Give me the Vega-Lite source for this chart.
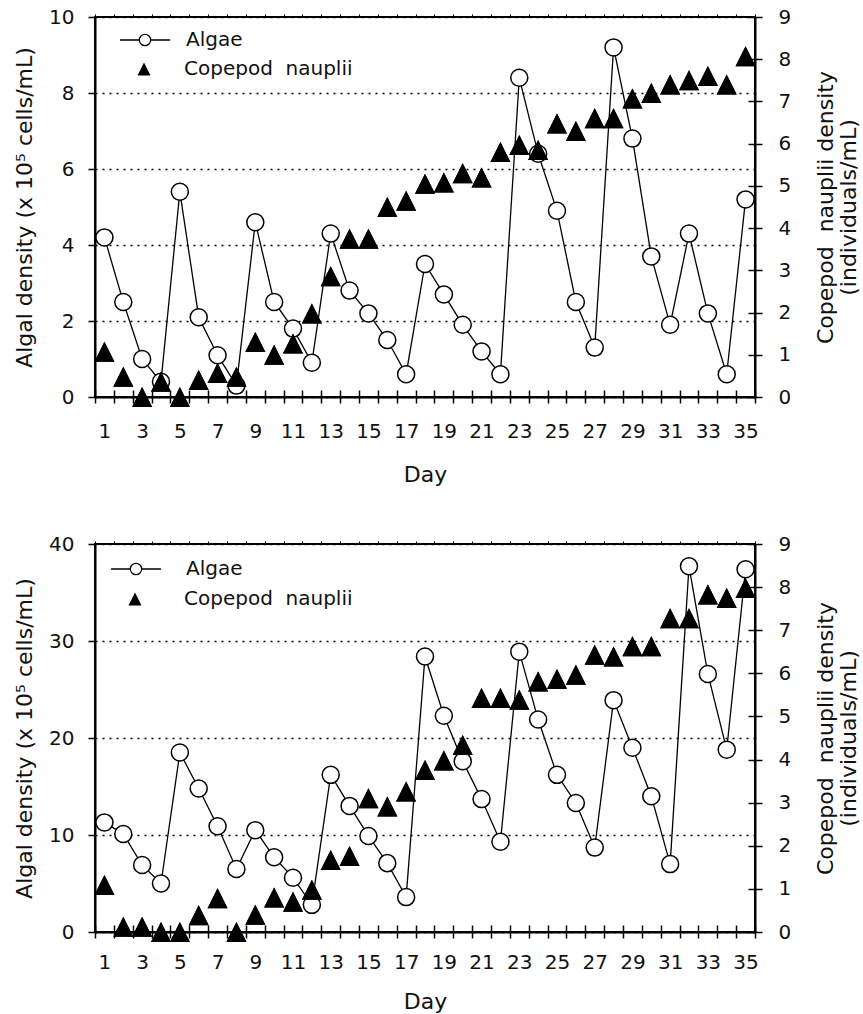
{
  "$schema": "https://vega.github.io/schema/vega-lite/v6.json",
  "padding": {"left": 12, "top": 6, "right": 0, "bottom": 0},
  "background": "white",
  "datasets": {
    "top": [
      {"day":1,"series":"Algae","value":4.2},{"day":2,"series":"Algae","value":2.5},{"day":3,"series":"Algae","value":1.0},{"day":4,"series":"Algae","value":0.4},{"day":5,"series":"Algae","value":5.4},
      {"day":6,"series":"Algae","value":2.1},{"day":7,"series":"Algae","value":1.1},{"day":8,"series":"Algae","value":0.3},{"day":9,"series":"Algae","value":4.6},{"day":10,"series":"Algae","value":2.5},
      {"day":11,"series":"Algae","value":1.8},{"day":12,"series":"Algae","value":0.9},{"day":13,"series":"Algae","value":4.3},{"day":14,"series":"Algae","value":2.8},{"day":15,"series":"Algae","value":2.2},
      {"day":16,"series":"Algae","value":1.5},{"day":17,"series":"Algae","value":0.6},{"day":18,"series":"Algae","value":3.5},{"day":19,"series":"Algae","value":2.7},{"day":20,"series":"Algae","value":1.9},
      {"day":21,"series":"Algae","value":1.2},{"day":22,"series":"Algae","value":0.6},{"day":23,"series":"Algae","value":8.4},{"day":24,"series":"Algae","value":6.4},{"day":25,"series":"Algae","value":4.9},
      {"day":26,"series":"Algae","value":2.5},{"day":27,"series":"Algae","value":1.3},{"day":28,"series":"Algae","value":9.2},{"day":29,"series":"Algae","value":6.8},{"day":30,"series":"Algae","value":3.7},
      {"day":31,"series":"Algae","value":1.9},{"day":32,"series":"Algae","value":4.3},{"day":33,"series":"Algae","value":2.2},{"day":34,"series":"Algae","value":0.6},{"day":35,"series":"Algae","value":5.2},
      {"day":1,"series":"Copepod nauplii","value":1.07},{"day":2,"series":"Copepod nauplii","value":0.48},{"day":3,"series":"Copepod nauplii","value":0.0},{"day":4,"series":"Copepod nauplii","value":0.36},{"day":5,"series":"Copepod nauplii","value":0.0},
      {"day":6,"series":"Copepod nauplii","value":0.4},{"day":7,"series":"Copepod nauplii","value":0.57},{"day":8,"series":"Copepod nauplii","value":0.48},{"day":9,"series":"Copepod nauplii","value":1.3},{"day":10,"series":"Copepod nauplii","value":1.0},
      {"day":11,"series":"Copepod nauplii","value":1.27},{"day":12,"series":"Copepod nauplii","value":1.98},{"day":13,"series":"Copepod nauplii","value":2.86},{"day":14,"series":"Copepod nauplii","value":3.75},{"day":15,"series":"Copepod nauplii","value":3.75},
      {"day":16,"series":"Copepod nauplii","value":4.5},{"day":17,"series":"Copepod nauplii","value":4.65},{"day":18,"series":"Copepod nauplii","value":5.05},{"day":19,"series":"Copepod nauplii","value":5.08},{"day":20,"series":"Copepod nauplii","value":5.3},
      {"day":21,"series":"Copepod nauplii","value":5.2},{"day":22,"series":"Copepod nauplii","value":5.8},{"day":23,"series":"Copepod nauplii","value":5.97},{"day":24,"series":"Copepod nauplii","value":5.85},{"day":25,"series":"Copepod nauplii","value":6.48},
      {"day":26,"series":"Copepod nauplii","value":6.3},{"day":27,"series":"Copepod nauplii","value":6.6},{"day":28,"series":"Copepod nauplii","value":6.6},{"day":29,"series":"Copepod nauplii","value":7.07},{"day":30,"series":"Copepod nauplii","value":7.2},
      {"day":31,"series":"Copepod nauplii","value":7.4},{"day":32,"series":"Copepod nauplii","value":7.5},{"day":33,"series":"Copepod nauplii","value":7.6},{"day":34,"series":"Copepod nauplii","value":7.4},{"day":35,"series":"Copepod nauplii","value":8.07}
    ],
    "bottom": [
      {"day":1,"series":"Algae","value":11.3},{"day":2,"series":"Algae","value":10.1},{"day":3,"series":"Algae","value":6.9},{"day":4,"series":"Algae","value":5.0},{"day":5,"series":"Algae","value":18.5},
      {"day":6,"series":"Algae","value":14.8},{"day":7,"series":"Algae","value":10.9},{"day":8,"series":"Algae","value":6.5},{"day":9,"series":"Algae","value":10.5},{"day":10,"series":"Algae","value":7.7},
      {"day":11,"series":"Algae","value":5.6},{"day":12,"series":"Algae","value":2.8},{"day":13,"series":"Algae","value":16.2},{"day":14,"series":"Algae","value":13.0},{"day":15,"series":"Algae","value":9.9},
      {"day":16,"series":"Algae","value":7.1},{"day":17,"series":"Algae","value":3.6},{"day":18,"series":"Algae","value":28.4},{"day":19,"series":"Algae","value":22.3},{"day":20,"series":"Algae","value":17.6},
      {"day":21,"series":"Algae","value":13.7},{"day":22,"series":"Algae","value":9.3},{"day":23,"series":"Algae","value":28.9},{"day":24,"series":"Algae","value":21.9},{"day":25,"series":"Algae","value":16.2},
      {"day":26,"series":"Algae","value":13.3},{"day":27,"series":"Algae","value":8.7},{"day":28,"series":"Algae","value":23.9},{"day":29,"series":"Algae","value":19.0},{"day":30,"series":"Algae","value":14.0},
      {"day":31,"series":"Algae","value":7.0},{"day":32,"series":"Algae","value":37.7},{"day":33,"series":"Algae","value":26.6},{"day":34,"series":"Algae","value":18.8},{"day":35,"series":"Algae","value":37.4},
      {"day":1,"series":"Copepod nauplii","value":1.09},{"day":2,"series":"Copepod nauplii","value":0.12},{"day":3,"series":"Copepod nauplii","value":0.12},{"day":4,"series":"Copepod nauplii","value":0.0},{"day":5,"series":"Copepod nauplii","value":0.0},
      {"day":6,"series":"Copepod nauplii","value":0.39},{"day":7,"series":"Copepod nauplii","value":0.78},{"day":8,"series":"Copepod nauplii","value":0.0},{"day":9,"series":"Copepod nauplii","value":0.4},{"day":10,"series":"Copepod nauplii","value":0.8},
      {"day":11,"series":"Copepod nauplii","value":0.7},{"day":12,"series":"Copepod nauplii","value":0.98},{"day":13,"series":"Copepod nauplii","value":1.67},{"day":14,"series":"Copepod nauplii","value":1.76},{"day":15,"series":"Copepod nauplii","value":3.1},
      {"day":16,"series":"Copepod nauplii","value":2.91},{"day":17,"series":"Copepod nauplii","value":3.26},{"day":18,"series":"Copepod nauplii","value":3.76},{"day":19,"series":"Copepod nauplii","value":3.98},{"day":20,"series":"Copepod nauplii","value":4.34},
      {"day":21,"series":"Copepod nauplii","value":5.43},{"day":22,"series":"Copepod nauplii","value":5.43},{"day":23,"series":"Copepod nauplii","value":5.39},{"day":24,"series":"Copepod nauplii","value":5.81},{"day":25,"series":"Copepod nauplii","value":5.87},
      {"day":26,"series":"Copepod nauplii","value":5.97},{"day":27,"series":"Copepod nauplii","value":6.43},{"day":28,"series":"Copepod nauplii","value":6.39},{"day":29,"series":"Copepod nauplii","value":6.63},{"day":30,"series":"Copepod nauplii","value":6.63},
      {"day":31,"series":"Copepod nauplii","value":7.28},{"day":32,"series":"Copepod nauplii","value":7.28},{"day":33,"series":"Copepod nauplii","value":7.83},{"day":34,"series":"Copepod nauplii","value":7.75},{"day":35,"series":"Copepod nauplii","value":7.98}
    ]
  },
  "vconcat": [
    {
      "width": 660, "height": 380,
      "data": {"name": "top"},
      "layer": [
        {
          "transform": [{"filter": "datum.series === 'Algae'"}],
          "encoding": {
            "x": {"field": "day", "type": "ordinal", "scale": {"type": "band", "paddingInner": 0, "paddingOuter": 0},
              "axis": {"orient": "bottom", "tickBand": "extent", "labelAngle": 0, "labelExpr": "datum.value % 2 === 1 ? datum.label : ''", "labelOverlap": false, "tickSize": 6, "tickWidth": 1.5, "domainWidth": 2, "labelPadding": 18, "title": "Day", "titlePadding": 23, "grid": false}},
            "y": {"field": "value", "type": "quantitative", "scale": {"domain": [0, 10], "nice": false},
              "axis": {"orient": "left", "values": [0, 2, 4, 6, 8, 10], "grid": true, "gridDash": [2, 5], "gridColor": "black", "gridWidth": 1.5, "gridOpacity": 1, "tickSize": 7, "tickWidth": 1.5, "domainWidth": 2, "labelPadding": 14, "title": "Algal density (x 10⁵ cells/mL)", "titlePadding": 12}}
          },
          "layer": [
            {"mark": {"type": "line", "color": "black", "strokeWidth": 1.3}},
            {"mark": {"type": "point", "shape": "circle", "filled": true, "fill": "white", "strokeWidth": 1.5, "size": 290, "opacity": 1},
              "encoding": {"stroke": {"field": "series", "type": "nominal", "scale": {"domain": ["Algae"], "range": ["black"]},
                "legend": {"orient": "none", "legendX": 40, "legendY": 13, "title": null, "padding": 0, "symbolType": "M-4.4,0L-1,0M1,0L4.4,0M-1,0A1,1,0,1,1,1,0A1,1,0,1,1,-1,0Z", "symbolSize": 130, "symbolFillColor": "white", "symbolStrokeWidth": 1.3, "symbolOpacity": 1, "labelOffset": 31, "labelFontSize": 20, "labelFont": "DejaVu Sans", "labelColor": "#111", "labelLimit": 0}}}}
          ]
        },
        {
          "transform": [{"filter": "datum.series === 'Copepod nauplii'"}],
          "mark": {"type": "point", "shape": "M0,-1L1,1L-1,1Z", "filled": true, "strokeWidth": 0, "size": 400, "opacity": 1},
          "encoding": {
            "x": {"field": "day", "type": "ordinal", "axis": {"orient": "bottom", "tickBand": "extent", "labels": false, "domain": false, "title": null, "tickSize": -7, "tickWidth": 1.5, "grid": false}},
            "y": {"field": "value", "type": "quantitative", "scale": {"domain": [0, 9], "nice": false},
              "axis": {"orient": "right", "values": [0, 1, 2, 3, 4, 5, 6, 7, 8, 9], "grid": false, "tickSize": 7, "tickWidth": 1.5, "domainWidth": 2, "labelPadding": 16, "title": ["Copepod\u00a0 nauplii density", "(individuals/mL)"], "titleAngle": 270, "titleBaseline": "top", "titlePadding": 2, "titleLineHeight": 23}},
            "fill": {"field": "series", "type": "nominal", "scale": {"domain": ["Copepod nauplii"], "range": ["black"]},
              "legend": {"orient": "none", "legendX": 39, "legendY": 42, "title": null, "padding": 0, "symbolType": "M0,-1L1,1L-1,1Z", "symbolSize": 170, "symbolStrokeWidth": 0, "symbolOpacity": 1, "labelOffset": 30, "labelFontSize": 20, "labelFont": "DejaVu Sans", "labelColor": "#111", "labelLimit": 0,
                "labelExpr": "'Copepod\u00a0 nauplii'"}}
          }
        },
        {
          "transform": [{"filter": "datum.series === 'Copepod nauplii'"}],
          "mark": {"type": "point", "shape": "M0,-1L1,1L-1,1Z", "filled": true, "fill": "black", "strokeWidth": 0, "size": 400, "opacity": 1},
          "encoding": {
            "x": {"field": "day", "type": "ordinal", "axis": {"orient": "top", "tickBand": "extent", "labels": false, "domain": false, "title": null, "tickSize": 3, "tickWidth": 1, "grid": false}},
            "y": {"field": "value", "type": "quantitative", "scale": {"domain": [0, 9], "nice": false},
              "axis": {"orient": "right", "values": [0, 1, 2, 3, 4, 5, 6, 7, 8, 9], "grid": false, "labels": false, "domain": false, "title": null, "tickSize": -7, "tickWidth": 1.5}}
          }
        }
      ],
      "resolve": {"scale": {"y": "independent"}, "axis": {"x": "independent", "y": "independent"}}
    },
    {
      "width": 660, "height": 388,
      "data": {"name": "bottom"},
      "layer": [
        {
          "transform": [{"filter": "datum.series === 'Algae'"}],
          "encoding": {
            "x": {"field": "day", "type": "ordinal", "scale": {"type": "band", "paddingInner": 0, "paddingOuter": 0},
              "axis": {"orient": "bottom", "tickBand": "extent", "labelAngle": 0, "labelExpr": "datum.value % 2 === 1 ? datum.label : ''", "labelOverlap": false, "tickSize": 6, "tickWidth": 1.5, "domainWidth": 2, "labelPadding": 14, "title": "Day", "titlePadding": 19, "grid": false}},
            "y": {"field": "value", "type": "quantitative", "scale": {"domain": [0, 40], "nice": false},
              "axis": {"orient": "left", "values": [0, 10, 20, 30, 40], "grid": true, "gridDash": [2, 5], "gridColor": "black", "gridWidth": 1.5, "gridOpacity": 1, "tickSize": 7, "tickWidth": 1.5, "domainWidth": 2, "labelPadding": 14, "title": "Algal density (x 10⁵ cells/mL)", "titlePadding": 12}}
          },
          "layer": [
            {"mark": {"type": "line", "color": "black", "strokeWidth": 1.3}},
            {"mark": {"type": "point", "shape": "circle", "filled": true, "fill": "white", "strokeWidth": 1.5, "size": 290, "opacity": 1},
              "encoding": {"stroke": {"field": "series", "type": "nominal", "scale": {"domain": ["Algae"], "range": ["black"]},
                "legend": {"orient": "none", "legendX": 31, "legendY": 15, "title": null, "padding": 0, "symbolType": "M-4.4,0L-1,0M1,0L4.4,0M-1,0A1,1,0,1,1,1,0A1,1,0,1,1,-1,0Z", "symbolSize": 130, "symbolFillColor": "white", "symbolStrokeWidth": 1.3, "symbolOpacity": 1, "labelOffset": 40, "labelFontSize": 20, "labelFont": "DejaVu Sans", "labelColor": "#111", "labelLimit": 0}}}}
          ]
        },
        {
          "transform": [{"filter": "datum.series === 'Copepod nauplii'"}],
          "mark": {"type": "point", "shape": "M0,-1L1,1L-1,1Z", "filled": true, "strokeWidth": 0, "size": 400, "opacity": 1},
          "encoding": {
            "x": {"field": "day", "type": "ordinal", "axis": {"orient": "bottom", "tickBand": "extent", "labels": false, "domain": false, "title": null, "tickSize": -7, "tickWidth": 1.5, "grid": false}},
            "y": {"field": "value", "type": "quantitative", "scale": {"domain": [0, 9], "nice": false},
              "axis": {"orient": "right", "values": [0, 1, 2, 3, 4, 5, 6, 7, 8, 9], "grid": false, "tickSize": 7, "tickWidth": 1.5, "domainWidth": 2, "labelPadding": 16, "title": ["Copepod\u00a0 nauplii density", "(individuals/mL)"], "titleAngle": 270, "titleBaseline": "top", "titlePadding": 2, "titleLineHeight": 23}},
            "fill": {"field": "series", "type": "nominal", "scale": {"domain": ["Copepod nauplii"], "range": ["black"]},
              "legend": {"orient": "none", "legendX": 30, "legendY": 45, "title": null, "padding": 0, "symbolType": "M0,-1L1,1L-1,1Z", "symbolSize": 170, "symbolStrokeWidth": 0, "symbolOpacity": 1, "labelOffset": 39, "labelFontSize": 20, "labelFont": "DejaVu Sans", "labelColor": "#111", "labelLimit": 0,
                "labelExpr": "'Copepod\u00a0 nauplii'"}}
          }
        },
        {
          "transform": [{"filter": "datum.series === 'Copepod nauplii'"}],
          "mark": {"type": "point", "shape": "M0,-1L1,1L-1,1Z", "filled": true, "fill": "black", "strokeWidth": 0, "size": 400, "opacity": 1},
          "encoding": {
            "x": {"field": "day", "type": "ordinal", "axis": {"orient": "top", "tickBand": "extent", "labels": false, "domain": false, "title": null, "tickSize": 3, "tickWidth": 1, "grid": false}},
            "y": {"field": "value", "type": "quantitative", "scale": {"domain": [0, 9], "nice": false},
              "axis": {"orient": "right", "values": [0, 1, 2, 3, 4, 5, 6, 7, 8, 9], "grid": false, "labels": false, "domain": false, "title": null, "tickSize": -7, "tickWidth": 1.5}}
          }
        }
      ],
      "resolve": {"scale": {"y": "independent"}, "axis": {"x": "independent", "y": "independent"}}
    }
  ],
  "spacing": 47,
  "resolve": {"scale": {"stroke": "independent", "fill": "independent"}},
  "config": {
    "view": {"stroke": "black", "strokeWidth": 2},
    "font": "DejaVu Sans",
    "axis": {"labelFont": "DejaVu Sans", "titleFont": "DejaVu Sans", "labelFontSize": 20, "titleFontSize": 22, "titleFontWeight": "normal", "labelColor": "#111", "titleColor": "#111", "domainColor": "black", "tickColor": "black"}
  }
}
